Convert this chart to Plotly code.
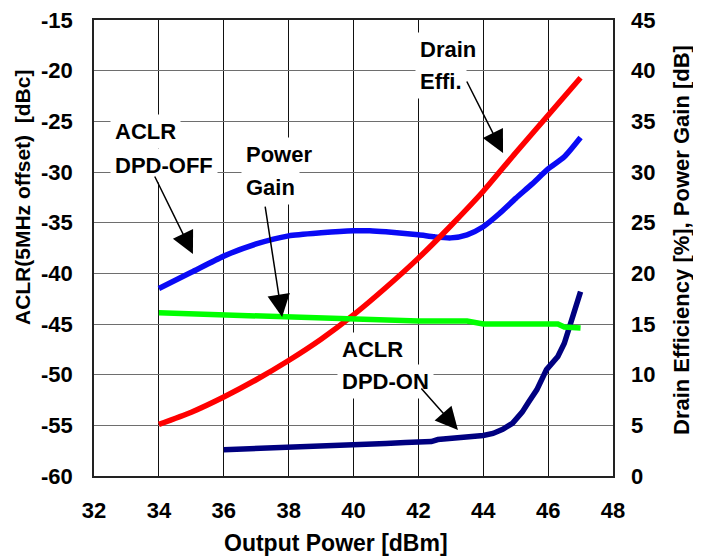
import plotly.graph_objects as go

# ---- data ----
x_aclr_off = [34, 35, 36, 37, 38, 39, 40, 40.5, 41, 42, 42.5, 43, 43.5, 44, 44.5, 45, 45.5, 46, 46.5, 47]
aclr_off = [-41.5, -39.9, -38.3, -37.1, -36.3, -36.0, -35.8, -35.8, -35.9, -36.2, -36.4, -36.5, -36.2, -35.4, -34.1, -32.6, -31.2, -29.7, -28.5, -26.6]

x_eff = [34, 35, 36, 37, 38, 39, 40, 41, 42, 43, 44, 45, 46, 47]
drain_eff = [5.1, 6.3, 7.8, 9.5, 11.4, 13.5, 15.9, 18.6, 21.5, 24.7, 28.1, 31.9, 35.6, 39.3]

x_gain = [34, 36, 38, 40, 41, 42, 43, 43.5, 44, 45, 46, 46.3, 46.5, 47]
power_gain = [16.1, 15.9, 15.6, 15.4, 15.3, 15.3, 15.3, 15.3, 15.0, 15.0, 15.0, 15.0, 14.7, 14.6]

x_aclr_on = [36, 37, 38, 39, 40, 41, 41.6, 42.4, 42.6, 43, 43.5, 44, 44.3, 44.6, 44.9, 45.2, 45.4, 45.65, 45.95, 46.3, 46.5, 46.7, 46.85, 47]
aclr_on = [-57.4, -57.3, -57.2, -57.1, -57.0, -56.8, -56.7, -56.6, -56.4, -56.3, -56.2, -56.0, -55.8, -55.4, -54.8, -53.7, -52.7, -51.5, -49.5, -48.2, -46.9, -44.9, -43.5, -41.8]

x_ticks = [32, 34, 36, 38, 40, 42, 44, 46, 48]
x_tick_labels = ["32", "34", "36", "38", "40", "42", "44", "46", "48"]
y_ticks = [-15, -20, -25, -30, -35, -40, -45, -50, -55, -60]
y_tick_labels = ["-15", "-20", "-25", "-30", "-35", "-40", "-45", "-50", "-55", "-60"]
y2_ticks = [45, 40, 35, 30, 25, 20, 15, 10, 5, 0]
y2_tick_labels = ["45", "40", "35", "30", "25", "20", "15", "10", "5", "0"]

FONT = "Liberation Sans, Arial, sans-serif"

fig = go.Figure()
fig.add_trace(go.Scatter(x=x_aclr_off, y=aclr_off, mode="lines",
                         line=dict(color="#0a0af5", width=5.5, shape="spline", smoothing=0.6), yaxis="y"))
fig.add_trace(go.Scatter(x=x_eff, y=drain_eff, mode="lines",
                         line=dict(color="#ff0000", width=5.5, shape="spline", smoothing=0.6), yaxis="y2"))
fig.add_trace(go.Scatter(x=x_gain, y=power_gain, mode="lines",
                         line=dict(color="#00ff00", width=5.5), yaxis="y2"))
fig.add_trace(go.Scatter(x=x_aclr_on, y=aclr_on, mode="lines",
                         line=dict(color="#000080", width=5.5), yaxis="y"))

tick_font = dict(family=FONT, size=22, color="black")
ann_font = dict(family=FONT, size=22, color="black")

annotations = []
# text labels (white background to interrupt grid)
labels = [
    ("ACLR", 32.49, -26.05), ("DPD-OFF", 32.49, -29.31),
    ("Power", 36.53, -28.32), ("Gain", 36.53, -31.48),
    ("Drain", 41.90, -17.96), ("Effi.", 41.90, -21.02),
    ("ACLR", 39.49, -47.47), ("DPD-ON", 39.49, -50.63),
]
for t, x, y in labels:
    annotations.append(dict(text="<b>%s</b>" % t, x=x, y=y, xref="x", yref="y",
                            xanchor="left", yanchor="middle", showarrow=False,
                            font=ann_font, bgcolor="white", borderpad=4))
# arrows (tail -> tip)
arrows = [
    ((33.85, -30.3), (35.05, -38.1)),
    ((37.27, -33.26), (37.80, -44.31)),
    ((43.47, -20.92), (44.61, -28.13)),
    ((42.05, -51.22), (43.22, -55.46)),
]
for (tx, ty), (hx, hy) in arrows:
    annotations.append(dict(text="", x=hx, y=hy, ax=tx, ay=ty, xref="x", yref="y",
                            axref="x", ayref="y", showarrow=True, arrowhead=2,
                            arrowsize=3.0, arrowwidth=1.5, arrowcolor="black"))
# axis titles
annotations.append(dict(text="<b>ACLR(5MHz offset)&nbsp;&nbsp;[dBc]</b>", x=-0.1387, y=0.6096,
                        xref="paper", yref="paper", textangle=-90, showarrow=False,
                        xanchor="center", yanchor="middle", font=dict(family=FONT, size=21, color="black")))
annotations.append(dict(text="<b>Drain Efficiency [%], Power Gain [dB]</b>", x=1.131, y=0.5175,
                        xref="paper", yref="paper", textangle=-90, showarrow=False,
                        xanchor="center", yanchor="middle", font=dict(family=FONT, size=22, color="black")))
annotations.append(dict(text="<b>Output Power [dBm]</b>", x=0.467, y=-0.147,
                        xref="paper", yref="paper", showarrow=False,
                        xanchor="center", yanchor="middle", font=dict(family=FONT, size=23, color="black")))

# page body has an 8px margin, so the figure is sized to fit inside the window
fig.update_layout(
    width=693, height=549,
    margin=dict(l=86, r=88, t=12, b=81, autoexpand=False),
    paper_bgcolor="white", plot_bgcolor="white",
    showlegend=False,
    font=dict(family=FONT, color="black"),
    xaxis=dict(range=[32, 48], tickmode="array", tickvals=x_ticks,
               ticktext=["<b>%s</b>" % s for s in x_tick_labels],
               tickfont=tick_font, ticks="", ticklabelstandoff=14, ticklabeloverflow="allow",
               showgrid=True, gridcolor="#111111", gridwidth=1,
               showline=True, linecolor="#222222", linewidth=1.5, mirror=True,
               zeroline=False, fixedrange=True, automargin=False),
    yaxis=dict(range=[-60, -15], tickmode="array", tickvals=y_ticks,
               ticktext=["<b>%s</b>" % s for s in y_tick_labels],
               tickfont=tick_font, ticks="", ticklabelstandoff=15, ticklabeloverflow="allow",
               showgrid=True, gridcolor="#6e6e6e", gridwidth=1,
               showline=True, linecolor="#222222", linewidth=1.5, mirror=True,
               zeroline=False, fixedrange=True, automargin=False),
    yaxis2=dict(range=[0, 45], tickmode="array", tickvals=y2_ticks,
                ticktext=["<b>%s</b>" % s for s in y2_tick_labels],
                tickfont=tick_font, ticks="", ticklabelstandoff=17, ticklabeloverflow="allow",
                overlaying="y", side="right", showgrid=False,
                showline=False, zeroline=False, fixedrange=True, automargin=False),
    annotations=annotations,
)

fig.write_html("out.html")
